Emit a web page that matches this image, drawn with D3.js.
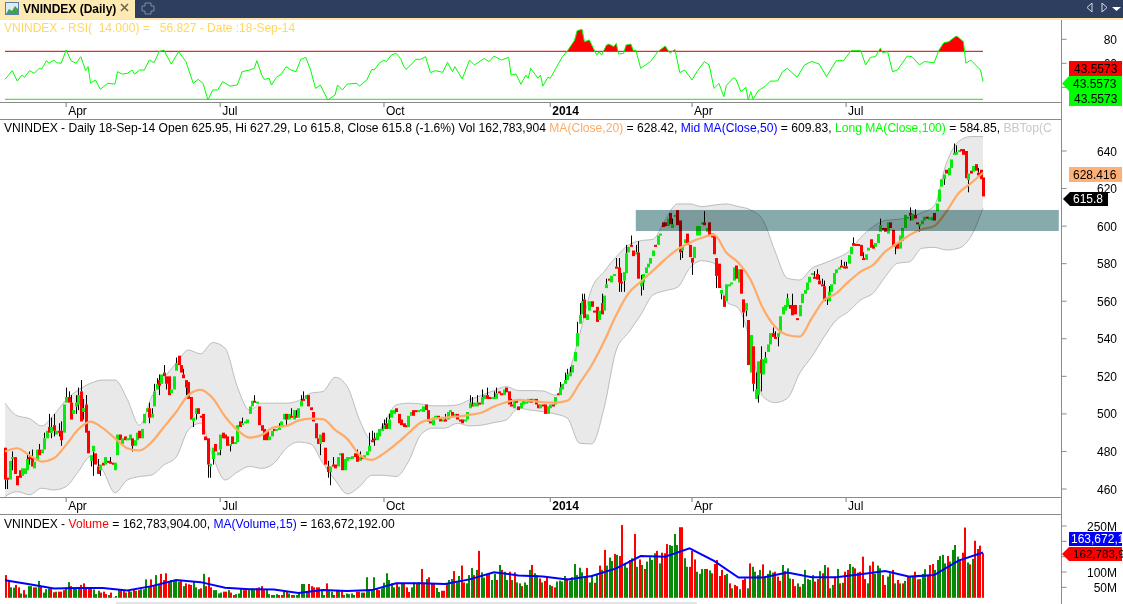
<!DOCTYPE html>
<html>
<head>
<meta charset="utf-8">
<title>VNINDEX (Daily)</title>
<script src="https://cdn.jsdelivr.net/npm/d3@7"></script>
<style>
  html, body { margin: 0; padding: 0; background: #fff; overflow: hidden; }
  svg { display: block; font-family: "Liberation Sans", Arial, sans-serif; }
  text { white-space: pre; }
</style>
</head>
<body>
<div id="chart"></div>
<script>
// open, high, low, close, one row per session
const ohlc = [
[482,482,460,465],[466,467,460,465],[465,476,464,475],[476,480,470,477],[477,478,467,468],[467,468,461,462],[470,472,465,466],[467,471,466,471],[468,472,467,471],[470,479,469,476],
[477,480,473,476],[477,481,470,472],[471,476,470,474.5],[475,482,474,481],[481,484,477,478],[479,483,477,481],[481,490,480,487],[487,492,485,491],[493,500,488,490],[490,498,487,493],
[494,500,488,491],[489,493,487,491],[491,495,488,490.5],[491,496,483,486],[490,507,488,505],[506,514,505,509],[509,512,504,506],[506,510,496,497],[500,504,498,502],[504,510,500,506],
[505,514,502,510],[512,518,495,496],[501,508,497,503],[505,510,488,490],[491,492,478,479],[475,479,472,478],[480,484,467,483],[479,481,473,473],[472,476,466,468],[470,474,467,473],
[474,475,471,472.5],[473,479,471,477],[475,476,472,474],[474.5,477,473,474],[474,475,472,473],[470,474,469,474],[478,490,477,489],[489,491,484,486],[484,488,483,487],[488,490,485,486],
[486,489,485,487],[486,491,484,489],[487,489,480,483],[483,488,481,486],[486,491,484,490],[491,493,486,487],[487,493,486,492],[495,502,494,500],[501,505,499,503],[503,506,495,498],
[498,503,496,500],[504,516,503,512],[513,519,511,516],[518,521,510,515],[516,522,514,521],[522,526,518,520],[520,521,513,516],[520,522,510,510],[511,515,509,513],[513,522,512,520],
[523,530,521,527],[531,533,525,526],[526,528,521,522],[521,524,517,519],[518,520,510,514],[517,518,508,508],[509,511,497,497],[496,499,493,498],[500,504,497,503],[503,504,499,500],
[499,501,497,498],[500,502,488,489],[488,489,485,486],[487,488,466,473],[472,474,466,473.5],[476,483,473,482],[484,485,479,480],[478,481,476,479.5],[481,490,478,489],[490,492,486,487],
[489,491,485,487],[488,490,482,483],[483,486,480,484],[488,490,483,484],[484,486,483,485],[485,495,484,494],[496,498,492,493],[494,498,493,495],[495,497,494,496],[495,498,493,497],
[500,505,498,504],[504,509,503,507],[507,510,505,506],[506,507,504,506.5],[504,505,493,494],[494,495,490,491],[492,493,485,486],[491,493,485,486],[486,490,485,488],[488,493,487,491],
[492,494,490,491.5],[491,494,489,492],[492,495,490,492.5],[493,497,492,496],[497,502,496,500],[500,502,494,497],[497,502,495,500],[499,503,497,498],[497,503,495,502],[499,502,497,498],
[498,505,497,503],[504,510,503,507],[508,512,506,507.5],[508,512,507,510],[510,511,503,504],[503.5,504,500,502],[501,502,494,496],[495,496,486,487],[487,488,482,484],[484,491,478,489],
[490,491,484,485],[482,483,472,473],[472,475,466,469],[469,473,462,472],[473,477,471,472],[473,475,470,471],[472,478,470,477],[478,481,477,479],[479,481,470,470],[470,478,469,476],
[475,479,473,477],[476,479,475,477],[476,478,475,477.5],[479,481,476,477],[478,481,473,474.5],[475,480,473,477],[477,479,474,476],[476,479,475,478],[478,481,477,480],[480,490,479,483],
[486,491,483,485],[487,490,483,486],[486,492,485,490],[488,494,486,492],[491,495,489,492],[492,497,491,494],[495,498,490,492],[492,500,491,497],[498,504,497,502],[500,504,499,502],
[503,505,500,501],[500,501,494,495],[497,498,493,494],[495,497,492,493],[494,496,492,493],[493,500,492,499],[499,503,498,501],[502,504,498,499],[502,504,500,501],[501,503,500,502],
[502,504,500,502.5],[501,505,500,504],[505,506,501,502],[502,503,495,496],[496,498,493,495],[494,499,493,498],[498,500,497,499],[499,501,497,498],[498,499,495,496],[497,499,496,497],
[497,500,495,496],[497,502,496,501],[501,504,499,502],[501,503,498,499],[499,502,497,500],[500,501,496,497],[497,499,495,496],[497,498,494,495],[496,498,495,497],[497,502,496,501],
[503,510,502,506],[505,509,503,504],[504,507,503,506],[504,510,503,506],[506,508,504,505],[505,513,504,509],[508,512,506,510],[510,514,507,508],[509,511,507,508],[508,510,507,509],
[508,512,507,509],[508,514,507,511],[512,514,510,511],[511,512,509,510],[510,515,509,513],[514,515,511,511.5],[512,513,504,505],[505,508,503,504],[503,508,502,507],[507,509,505,506],
[504,505,501,502],[503,507,502,506],[505,508,504,507],[506,508,505,506.5],[506,509,505,508],[508,509,505,506],[507,509,506,508],[508,509,504,505],[505,507,502,503],[503,507,502,505],
[505,507,503,504],[505,506,499,500],[500,505,499,504],[503,506,502,505],[505,507,503,504.5],[505,510,504,509],[511,513,509,510],[510,517,509,514],[513,518,512,516],[516,522,514,518],
[518,524,517,521],[520,525,519,522],[522,527,521,526],[528,534,527,533],[536,549,535,543],[548,559,546,552.7],[553,564,551,560],[561,564,551,551],[550,555,549,553],[555,560,553,560],
[560,562,556,557],[555,557,553,554],[557,558,548,549],[550,556,548,555],[559,564,552,553],[555,565,554,563],[567,572,566,569],[572,574,570,571.5],[570,574,569,573.5],[574,575,572,574.5],
[578.4,583,576,578],[578,583,565,570],[570.5,575,565,570],[571,577,565,575.5],[575,590,574,585.5],[586,590,585,589],[590,595,587,589],[587,589,583,584],[585,590,583,586],[586,592,572,572],
[568,574,563,570],[570,576,566,574.5],[575,580,573,578],[578,581,577,580],[580,585,579,583],[584,589,583,587],[590,591,589,589],[590,596,589,595],[595,598,594,596],[602,604,599,599.5],
[602,604,598,600],[600,606,598,604],[607,608,600,601],[599,604,598,601],[605,608,604,606],[608.5,609,600,600.5],[603,604,582,586],[587,591,583,589],[591,594,589,593],[596,597,590,590],
[590,591,583,583.5],[583,584,574,580.5],[583,590,582,589],[595,602,594,600],[595,601,594,600],[601,604,600,602],[602,608,600,600.5],[597,600,596,599],[602,603,595,595],[596,598,592,594],
[595,596,585,585],[583,584,567,573.5],[580,581,565,567],[564,568,561,566],[563,565,557,557],[560,569,558,569],[568,571,566,569],[569,572,567,570],[571,580,570,578],[579,581,572,572],
[570,578,568,577],[577,578,564,564],[561,562,546,554],[555,559,552,559],[550,551,526,526],[522,542,521,542],[536,537,512,516],[508,522,507,513],[510,529,506,528],[529,536,512,521.5],
[521,530,519,529],[527,533,525,530],[533,537,531,537],[537,544,536,543],[543,546,540,541],[541,544,539,540],[541,544,536,543],[543,553,541,552],[553,558,552,557],[555,560,554,558],
[557,564,556,561.5],[558,560,555,556],[558,564,552,552.5],[558,559,552,553],[551,552,548,550],[552,559,551,558],[559,565,558,564],[564,568,562,566],[566,571,565,570],[570,574,569,573],
[574,577,572,575],[573,576,571,572],[574.5,577,570,571.5],[571,574,568,569],[569,572,566,568],[568,571,559,560],[561,563,558,562],[560,568,559,565],[565,570,563,569],[569,576,568,575],
[575,579,574,577],[577,580,575,578],[579,582,577,578.5],[578.5,581,577,578],[578.5,581,577.5,578],[580,586,579,584.5],[585,590,584,589],[591,594,589,589.5],[590.5,592,589,590],[590.5,592,589,590],
[590,591,583,584],[583,586,580,582],[582,586,580,585],[587,590,586,588.5],[593,594,588,588.5],[590,591,586,588],[589,592,587,591],[591,596,590,595.8],[597,604,596,600.5],[599,601,596,598],
[599,601,595,597],[596,603,594,602],[602,604,598,599],[598,599,588,589],[589,592,585,591],[591,593,586,588],[588,596,587,595],[592,601,591,599],[599,607,598,606],[604,607,602,605],
[607,610,603,605.5],[603,608,602,606.5],[606,609,603,604],[602,604,600,601],[600,603,597,601],[601,604,599,603],[603,606,601,605],[605,607,603,604],[604,606,602,604.5],[603,607,602,605],
[607,609,602,603],[608,613,607,612],[613,620,612,619.5],[621,625,620,625],[625,629,622,627.5],[630,631,627,628],[627,633,626,631],[631,636,630,635.5],[638,644,637,639],[638,643,637,639.5],
[640,642,639,640.5],[641,642,638,640],[641,641.5,637,638],[640,641,625,625.5],[624.6,629,618,628],[629.5,630,627,628],[629,633,628,632],[633,635,628,629.5],[628.5,631,626,627],[630,631,624,625],
[625.95,627.29,615.8,615.8]
];
// stubs shorter than this many points do not show beside the bodies
const minWick = 2.5;

// moving average and bollinger bands, read every 5 sessions
const bandStep = 5;
const maClose = [480,481.7,478,474.6,476.4,483.5,491.8,495.9,492.4,487,481.7,480.5,485,493,501,510,512.8,508.3,498.6,491.5,
  487.4,488.8,492.9,493.6,496.4,497.5,497.2,491.5,486.7,478.2,475.5,479,484,489.7,495.4,497.2,498,498.6,499.5,500.7,
  503.9,506.2,507.5,507,506.2,506,507,516.3,526,538.5,552.7,564.2,570.4,576.3,582.3,587.6,591.2,593.8,595.3,585.9,
  580.5,571.3,556.2,546.4,542,541.1,551,560.7,564.2,570.4,575.8,579.3,586.4,590.9,595.3,598.3,600,607.7,617.5,622.8,628.4];
const bbTop = [505.7,499,497.5,493.6,499.5,507.5,512.8,516.3,518,518,507.8,494,509,519,527,534,532,538,535,514.5,
  502,505.7,505.7,505.7,507,511,511.9,519.5,514.5,496.8,486,495,504.8,505.7,505.3,504.3,504.3,504.8,507.5,510,
  512.4,514.5,512.4,512.4,512.2,510,519.9,542,566.9,575.7,583.7,590,592.2,593,603.2,611.8,611.8,610.4,611.2,611.8,
  610.4,608.6,603.2,586.4,572.2,571.3,577.5,580.2,582.9,586.4,594,599.7,603,603.6,604.7,607.2,610.7,633.4,645,647.7,647.7];
const bbBottom = [456,458.6,456.9,460.4,459.5,461.3,469.3,477.3,470,458,464.8,466.6,467.5,472.8,477,491.5,495,477.3,464.8,469,
  472,471,473.7,481.7,485,484,473.7,464.8,457.4,461.3,467.3,467.3,466.6,474.6,488.8,492.4,492.4,495,493.6,494,
  495.4,496.8,503,502,501.2,500,497.7,484.4,484,503,534,543.3,552.7,563.3,565.6,567.4,577.5,581.6,580.2,559.8,
  556.2,537.6,509.2,506,508.3,521.6,530.5,541,550,554.5,560.7,564.2,573,580.2,581,588.2,588.7,587.3,588.2,594.4,609.5];

// [session, rsi]
const rsiPoints = [[0,46.6],[3,53.9],[5,45.2],[7,50.3],[8,48.3],[10,53.9],[12,51.6],[14,55.8],[15,55.2],[17,62.2],[18,60],[20,62.7],[21,60.5],[23,60],[25,71.1],[27,62.2],[29,60],[31,65.5],[33,53.9],[34,57.2],
[35,43.3],[37,46.1],[39,38.3],[42,43.3],[45,42.7],[46,53],[48,51],[50,51.6],[52,54.4],[53,51],[55,54.4],[57,54.4],[59,62.7],[61,60.5],[63,69.7],[65,71],[66,66.9],[68,59.4],[71,69.7],[74,61.4],
[77,43.3],[79,46.6],[81,43.3],[83,29.4],[85,37.8],[87,37.8],[89,44.7],[92,41],[95,41.9],[97,53],[100,54.4],[102,55.8],[103,62.2],[105,50.2],[106,46.6],[108,47.5],[109,41.9],[111,48.3],[113,51],[115,57.2],
[117,54.4],[119,53],[121,63.3],[123,65],[125,54.4],[127,39.1],[129,41.9],[132,29.4],[135,33.6],[136,41.9],[138,37.8],[140,42.7],[144,43.3],[145,41],[148,46.1],[150,55],[151,54.4],[153,60],[155,62.7],[156,61.4],
[158,66.9],[160,68.3],[162,63.3],[163,57.7],[164,55],[166,58.6],[168,63.3],[170,63.3],[172,65.5],[174,52.2],[176,53.9],[179,52.5],[181,60.8],[183,53],[184,57.2],[187,46.9],[190,62.7],[192,58.6],[196,64],[198,61.4],
[200,66],[203,62.7],[206,65],[207,50.2],[209,51],[211,42.5],[213,50.2],[214,47.5],[215,55.8],[218,47.5],[219,50.2],[220,41],[222,48.3],[223,47.5],[228,65.5],[230,70.2],[233,79.4],[234,87.2],[236,88.3],[237,78],
[239,79.4],[242,66.9],[243,69.7],[244,66.9],[246,75.2],[247,76],[249,73.9],[250,76.6],[251,67.7],[253,68.3],[254,75.2],[256,76],[257,70.5],[258,71],[260,55.8],[262,58.6],[264,61.4],[267,69.7],[270,74.4],[272,68.3],
[274,71.6],[276,52.2],[278,54.4],[281,46.1],[283,53],[286,61.4],[288,58.6],[290,39.1],[292,43.3],[294,32.2],[295,41.4],[298,48],[299,46.6],[301,36.3],[303,40],[304,29.4],[305,36.4],[306,30],[308,37],[311,41],
[313,45.2],[316,45.2],[318,53],[320,55.8],[324,48.3],[327,58.6],[330,61.6],[333,59.4],[336,48.9],[340,62.2],[343,62.2],[346,70.5],[350,70.5],[352,58.6],[354,65],[356,65.5],[358,72.5],[359,68.9],[361,69.7],[363,53],
[365,54.4],[369,66],[371,65.5],[374,58.6],[376,61.4],[380,60.5],[382,71],[384,77.2],[386,78],[389,82.7],[390,81.6],[392,78],[393,60],[395,62.7],[399,54.4],[400,44.7]];
const rsiLevels = [70, 30];
const rsiTicks = [80, 60, 40];
const rsiTickLabels = ['80', '60', ''];

// volume in millions and the side of each bar (r down, g up)
const volumes = [90,74,50,49,58,50,30,41,27,54,54,50,50,71,54,33,44,47,47,34,
  36,36,36,41,49,67,54,47,47,47,58,63,50,50,50,43,28,39,33,36,
  28,25,33,17,22,44,41,39,33,41,36,44,39,41,44,44,76,52,76,54,
  90,60,94,74,96,69,74,71,74,69,74,54,63,60,58,69,50,44,47,94,
  54,83,50,41,41,30,33,36,36,41,33,25,28,30,47,41,41,41,47,41,
  47,50,54,41,41,28,25,25,28,25,25,36,36,30,25,25,25,33,61,61,
  36,61,54,50,50,50,39,25,63,41,36,25,39,39,41,25,30,28,30,25,
  36,36,33,33,83,39,40,83,47,41,47,65,96,74,63,50,65,52,63,
  63,50,35,50,66,63,66,110,66,77,83,63,63,48,35,39,39,63,74,77,
  103,66,87,121,66,63,90,113,90,107,169,99,82,94,96,74,94,74,123,107,
  101,74,101,74,99,66,63,54,66,58,107,123,96,90,79,66,71,83,58,54,
  50,69,72,69,87,79,72,83,126,90,114,99,87,113,66,90,65,90,121,107,
  172,121,147,136,159,156,152,253,128,114,139,145,224,117,141,123,110,134,148,139,
  161,169,128,163,161,191,188,185,224,188,246,246,145,117,117,169,141,101,94,110,
  110,110,105,96,126,139,87,107,90,94,63,47,58,54,44,74,79,47,128,117,
  101,90,107,125,83,94,105,98,101,85,71,
  123,103,112,79,77,54,63,52,61,107,77,74,90,69,77,103,96,123,115,47,
  58,85,110,63,65,101,107,126,117,112,98,101,150,77,63,121,134,94,121,112,
  90,58,85,96,107,63,74,63,63,71,87,87,87,101,76,77,94,109,90,123,
  126,107,139,152,156,128,152,134,172,188,150,141,163,245,131,125,143,202,175,186,
  161];
const volumeSides = 'rrggrrgrgggrggrgggrr' + 'grrrggrgggrrrrrgggrr' + 'rgrgggrrgrgrgrggggrr' + 'ggrrrrggggrgrrrgggrg' +
  'rrrggggrrgrrgggrrggg' + 'rrrrgggggrrgrgrggggg' + 'grrrrrggrggrrgrggggg' + 'rrgrggggrrggggggrgg' +
  'rrrggrgrrgrrrggrrrgg' + 'rggrrgggrgrggrrggrgr' + 'ggrgrggrgggrggrgrrgr' + 'rggggrgggggggrggrgrg' +
  'rgggrgrrggrgrgrgrggg' + 'grgrrrggggrrggrrrggg' + 'grgrrrrrrgrgrrgrrgrg' + 'gggrggggrrr' +
  'grggrrgrgggggrrgrgrg' + 'grgrgrrggrrrrrgrrggg' + 'rrggrgrgrgrggrrgggrr' + 'rgggggrggggrrrgrgrrr' + 'r';
const volumeFloor = 16;

// volume moving average, read every 10 sessions
const volMaStep = 10;
const volMa = [73,60,46,48,48,40,54,74,67,49,44,43,32,41,38,41,63,63,61,76,99,89,85,76,87,112,152,150,177,136,82,82,98,83,83,93,103,85,90,137,163.7];
const volTicks = [250, 200, 150, 100, 50];
const volTickLabels = ['250M', '', '', '100M', '50M'];

const priceTicks = [640, 620, 600, 580, 560, 540, 520, 500, 480, 460];
const priceTickLabels = priceTicks.map(String);
const dateIndex = [25, 88, 155, 223, 281, 344];
const dateLabels = ['Apr', 'Jul', 'Oct', '2014', 'Apr', 'Jul'];

// support zone: sessions and price limits
const zoneSessions = [258, 431];
const zonePrices = [608.6, 597.4];

const width = 1123, height = 604;
const axisX = 1061.5;
const up = '#09e80f', down = '#ff0000', lime = '#00ff00', orange = '#ffaa66', blue = '#0000ff';
const textSize = 12.1;

const x = d3.scaleLinear().domain([0, ohlc.length - 1]).range([5, 983]);
const xVol = d3.scaleLinear().domain([0, volumes.length - 1]).range([6, 983]);
const yPrice = d3.scaleLinear().domain([460, 640]).range([489, 151]);
const yRsi = d3.scaleLinear().domain([30, 80]).range([99.3, 39.3]);
const yVol = d3.scaleLinear().domain([0, 250]).range([602.7, 526]);

const svg = d3.select('#chart').append('svg').attr('width', width).attr('height', height);
const defs = svg.append('defs');

svg.append('rect').attr('width', width).attr('height', height).attr('fill', '#fff');

// --- title bar
svg.append('rect').attr('width', width).attr('height', 18).attr('fill', '#2d3e5f');
svg.append('rect').attr('y', 18).attr('width', width).attr('height', 2).attr('fill', '#fde6a8');
svg.append('rect').attr('width', 135).attr('height', 19).attr('fill', '#fdeab2');
const icon = svg.append('g');
icon.append('rect').attr('x', 5.5).attr('y', 2.5).attr('width', 13).attr('height', 12).attr('fill', '#dfe9f5').attr('stroke', '#5b7fa8');
icon.append('path').attr('d', 'M6,14 L9,9 L12,11 L15,6 L18,9 V14 Z').attr('fill', '#3fa34d');
svg.append('text').attr('x', 23).attr('y', 12.5).attr('font-size', 12).attr('font-weight', 'bold').attr('fill', '#000').text('VNINDEX (Daily)');
svg.append('path').attr('d', 'M121,4 L128,11 M128,4 L121,11').attr('stroke', '#6b6248').attr('stroke-width', 1.5).attr('fill', 'none');
svg.append('path').attr('d', 'M145,3 h6 v3 h3 v5 h-3 v3 h-6 v-3 h-3 v-5 h3 Z').attr('fill', 'none').attr('stroke', '#7f8aa0');
svg.append('path').attr('d', 'M1092,3 L1087,7.5 L1092,12 Z M1102,3 L1107,7.5 L1102,12 Z').attr('fill', 'none').attr('stroke', '#d5dbe6');
svg.append('path').attr('d', 'M1112,7 H1121 L1116.5,11 Z').attr('fill', '#fff');

// --- rsi pane
const rsiLine = d3.line().x(d => x(d[0])).y(d => yRsi(d[1]));
const rsiArea = d3.area().x(d => x(d[0])).y0(yRsi(70)).y1(d => yRsi(d[1]));
defs.append('clipPath').attr('id', 'over70').append('rect')
  .attr('x', 0).attr('y', 20).attr('width', axisX).attr('height', yRsi(70) - 20);
svg.append('path').datum(rsiPoints).attr('d', rsiArea).attr('fill', down).attr('clip-path', 'url(#over70)');
svg.append('line').attr('x1', x(0)).attr('x2', x(400)).attr('y1', yRsi(rsiLevels[0])).attr('y2', yRsi(rsiLevels[0])).attr('stroke', '#e00000');
svg.append('line').attr('x1', x(0)).attr('x2', x(400)).attr('y1', yRsi(rsiLevels[1])).attr('y2', yRsi(rsiLevels[1])).attr('stroke', '#22e022');
svg.append('path').datum(rsiPoints).attr('d', rsiLine).attr('fill', 'none').attr('stroke', lime).attr('stroke-width', 1);
svg.append('text').attr('x', 4).attr('y', 32).attr('font-size', 12).attr('fill', '#ffd75e')
  .text('VNINDEX - RSI(  14.000) =   56.827 - Date :18-Sep-14');

// --- price pane
const bandArea = d3.area().x((d, i) => x(Math.min(i * bandStep, 400)))
  .y0((d, i) => yPrice(bbBottom[i])).y1(d => yPrice(d)).curve(d3.curveMonotoneX);
const bandEdge = d3.line().x((d, i) => x(Math.min(i * bandStep, 400))).y(d => yPrice(d)).curve(d3.curveMonotoneX);
svg.append('path').datum(bbTop).attr('d', bandArea).attr('fill', '#e9e9e9');
[bbTop, bbBottom].forEach(s => {
  svg.append('path').datum(s).attr('d', bandEdge).attr('fill', 'none').attr('stroke', '#bcbcbc').attr('stroke-width', 1);
});

const wickX = (d, i) => Math.round(x(i)) + 0.5;
const candles = svg.append('g');
candles.selectAll('line.hi').data(ohlc).join('line').attr('class', 'hi')
  .attr('x1', wickX).attr('x2', wickX)
  .attr('y1', d => yPrice(d[1] - Math.max(d[0], d[3]) < minWick ? Math.max(d[0], d[3]) : d[1]))
  .attr('y2', d => yPrice(Math.max(d[0], d[3])))
  .attr('stroke', '#000');
candles.selectAll('line.lo').data(ohlc).join('line').attr('class', 'lo')
  .attr('x1', wickX).attr('x2', wickX)
  .attr('y1', d => yPrice(Math.min(d[0], d[3])))
  .attr('y2', d => yPrice(Math.min(d[0], d[3]) - d[2] < minWick ? Math.min(d[0], d[3]) : d[2]))
  .attr('stroke', '#000');
candles.selectAll('rect').data(ohlc).join('rect')
  .attr('x', (d, i) => Math.round(x(i)) - 1).attr('width', 3)
  .attr('y', d => yPrice(Math.max(d[0], d[3])))
  .attr('height', d => Math.max(2, Math.abs(yPrice(d[0]) - yPrice(d[3]))))
  .attr('fill', d => d[3] >= d[0] ? up : down);

svg.append('path').datum(maClose).attr('d', bandEdge).attr('fill', 'none').attr('stroke', orange).attr('stroke-width', 2.2);

svg.append('rect')
  .attr('x', x(zoneSessions[0])).attr('width', x(zoneSessions[1]) - x(zoneSessions[0]))
  .attr('y', yPrice(zonePrices[0])).attr('height', yPrice(zonePrices[1]) - yPrice(zonePrices[0]))
  .attr('fill', '#87aaac').style('mix-blend-mode', 'multiply');

const priceHead = svg.append('text').attr('x', 4).attr('y', 132).attr('font-size', textSize).attr('fill', '#000');
priceHead.append('tspan').text('VNINDEX - Daily 18-Sep-14 Open 625.95, Hi 627.29, Lo 615.8, Close 615.8 (-1.6%) Vol 162,783,904 ');
priceHead.append('tspan').attr('fill', orange).text('MA(Close,20)');
priceHead.append('tspan').text(' = 628.42, ');
priceHead.append('tspan').attr('fill', blue).text('Mid MA(Close,50)');
priceHead.append('tspan').text(' = 609.83, ');
priceHead.append('tspan').attr('fill', lime).text('Long MA(Close,100)');
priceHead.append('tspan').text(' = 584.85, ');
priceHead.append('tspan').attr('fill', '#c8c8c8').text('BBTop(C');

// --- volume pane
const volHead = svg.append('text').attr('x', 4).attr('y', 528).attr('font-size', textSize).attr('fill', '#000');
volHead.append('tspan').text('VNINDEX - ');
volHead.append('tspan').attr('fill', down).text('Volume');
volHead.append('tspan').text(' = 162,783,904.00, ');
volHead.append('tspan').attr('fill', blue).text('MA(Volume,15)');
volHead.append('tspan').text(' = 163,672,192.00');

svg.append('g').selectAll('rect').data(volumes).join('rect')
  .attr('x', (d, i) => Math.round(xVol(i)) - 1).attr('width', 2)
  .attr('y', d => yVol(d)).attr('height', d => yVol(volumeFloor) - yVol(d))
  .attr('fill', (d, i) => volumeSides[i] === 'g' ? '#078a07' : down);

svg.append('path').datum(volMa).attr('d', d3.line().x((d, i) => x(i * volMaStep)).y(d => yVol(d)))
  .attr('fill', 'none').attr('stroke', blue).attr('stroke-width', 2);

// --- frame lines
const frame = '#8a8a8a';
[102.5, 119.5, 497.5, 514.5].forEach(y => {
  svg.append('line').attr('x1', 0).attr('x2', axisX).attr('y1', y).attr('y2', y).attr('stroke', frame);
});
svg.append('line').attr('x1', axisX).attr('x2', axisX).attr('y1', 20).attr('y2', height).attr('stroke', frame);
svg.append('line').attr('x1', 116).attr('x2', 697).attr('y1', 603).attr('y2', 603).attr('stroke', '#c8c8c8');

// --- date axes
[[103, 115], [498, 510]].forEach(([top, base]) => {
  const g = svg.append('g');
  dateIndex.forEach((d, i) => {
    g.append('line').attr('x1', x(d)).attr('x2', x(d)).attr('y1', top).attr('y2', top + 4).attr('stroke', '#777');
    g.append('text').attr('x', x(d) + 2).attr('y', base).attr('font-size', 12)
      .attr('font-weight', dateLabels[i] === '2014' ? 'bold' : 'normal').attr('fill', '#000').text(dateLabels[i]);
  });
});

// --- right axes
function rightAxis(ticks, labels, scale) {
  ticks.forEach((t, i) => {
    svg.append('line').attr('x1', axisX).attr('x2', axisX + 5).attr('y1', scale(t)).attr('y2', scale(t)).attr('stroke', frame);
    if (labels[i]) {
      svg.append('text').attr('x', 1117).attr('y', scale(t) + 4.5).attr('text-anchor', 'end')
        .attr('font-size', 12).attr('fill', '#000').text(labels[i]);
    }
  });
}
rightAxis(rsiTicks, rsiTickLabels, yRsi);
rightAxis(priceTicks, priceTickLabels, yPrice);
rightAxis(volTicks, volTickLabels, yVol);

// --- value flags
function flag(x0, x1, y0, y1, fill, color, label, arrow, textX, size) {
  const mid = (y0 + y1) / 2;
  const d = arrow
    ? `M${x0},${mid} L${x0 + 7},${y0} H${x1} V${y1} H${x0 + 7} Z`
    : `M${x0},${y0} H${x1} V${y1} H${x0} Z`;
  svg.append('path').attr('d', d).attr('fill', fill);
  svg.append('text').attr('x', textX).attr('y', mid + 4.3).attr('font-size', size || 12).attr('fill', color).text(label);
}
flag(1069, 1122, 61, 76, down, '#000', '43.5573', false, 1074);
flag(1062, 1122, 76, 91, lime, '#000', '43.5573', true, 1073);
flag(1069, 1122, 91, 106, lime, '#000', '43.5573', false, 1074);
flag(1069, 1122, 167, 182, '#ffb074', '#000', '628.416', false, 1073);
flag(1063, 1108, 192, 206, '#000', '#fff', '615.8', true, 1073);
flag(1069, 1122, 532, 546, blue, '#fff', '163,672,1', false, 1071);
flag(1062, 1122, 547, 561, down, '#000', '162,783,9', true, 1073, 11.6);
</script>
</body>
</html>
